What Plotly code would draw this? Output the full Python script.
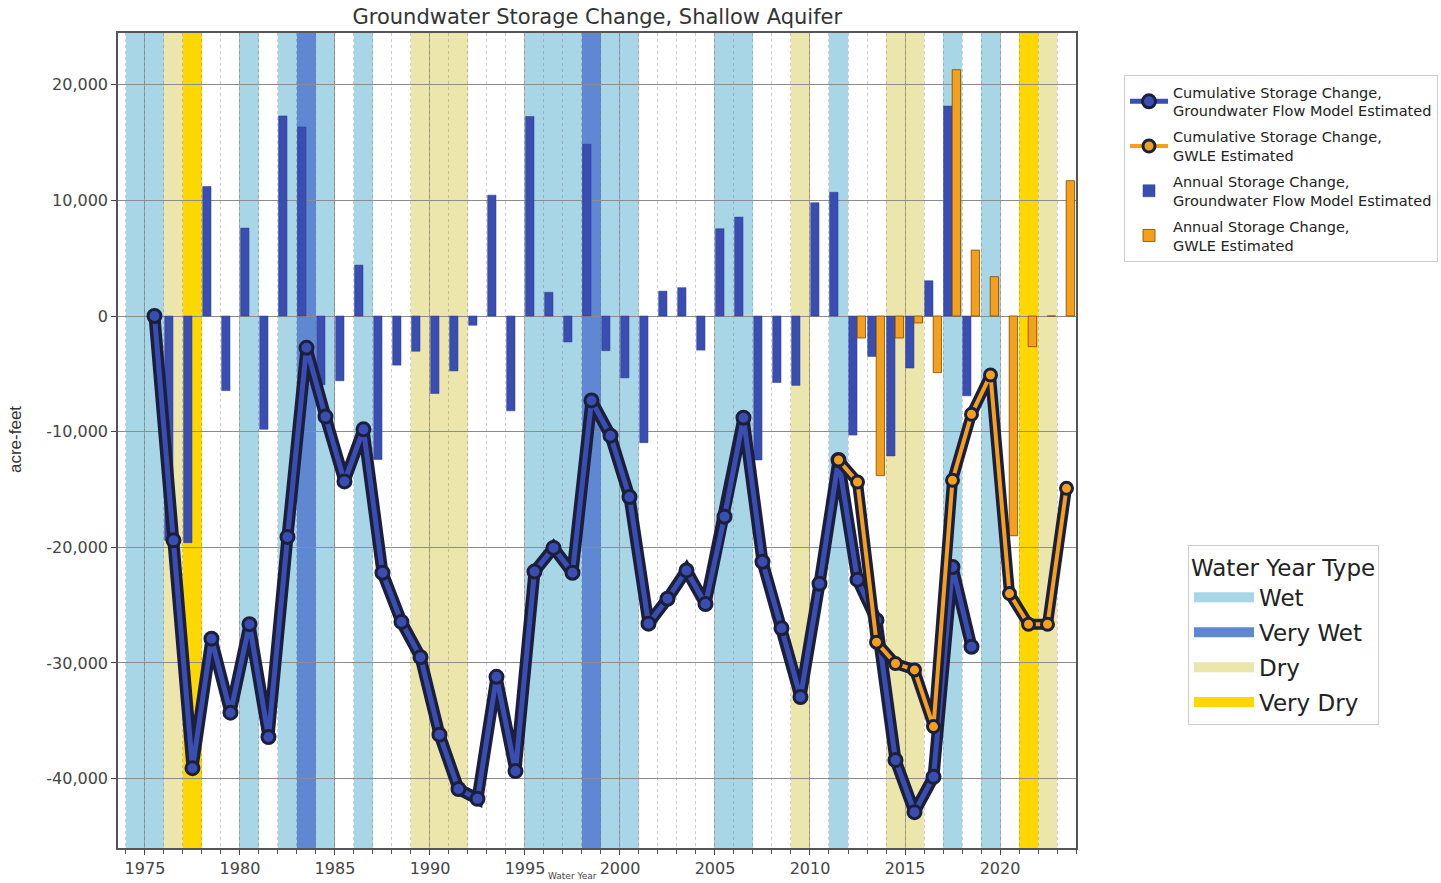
import plotly.graph_objects as go

# ---------------- data ----------------
years_model = list(range(1975, 2019))
cum_model = [0, -19400, -39100, -27900, -34300, -26650, -36400, -19100, -2750, -8700,
             -14300, -9800, -22200, -26450, -29500, -36200, -40900, -41750, -31200, -39350,
             -22100, -20050, -22200, -7300, -10350, -15650, -26600, -24450, -22000, -24900,
             -17350, -8800, -21250, -27000, -32950, -23150, -12450, -22800, -26300, -38400,
             -42900, -39850, -21700, -28600]
annual_years_model = list(range(1976, 2019))
annual_model = [-19400, -19600, 11200, -6450, 7600, -9800, 17300, 16350, -5950, -5600,
                4400, -12400, -4250, -3050, -6700, -4750, -800, 10450, -8200, 17250,
                2050, -2250, 14850, -3000, -5350, -10950, 2150, 2450, -2950, 7550,
                8550, -12450, -5750, -6000, 9800, 10700, -10300, -3500, -12100, -4500,
                3050, 18150, -6900]

years_gwle = list(range(2011, 2024))
cum_gwle = [-12450, -14350, -28200, -30050, -30600, -35500, -14200, -8500, -5100,
            -24000, -26650, -26650, -14900]
annual_years_gwle = list(range(2012, 2024))
annual_gwle = [-1900, -13800, -1900, -600, -4900, 21300, 5700, 3400, -19000, -2650, 0, 11700]

type_years = list(range(1974, 2024))
year_types = ["Wet", "Wet", "Dry", "Very Dry", "", "", "Wet", "", "Wet", "Very Wet",
              "Wet", "", "Wet", "", "", "Dry", "Dry", "Dry", "", "",
              "", "Wet", "Wet", "Wet", "Very Wet", "Wet", "Wet", "", "", "",
              "", "Wet", "Wet", "", "", "Dry", "", "Wet", "", "",
              "Dry", "Dry", "", "Wet", "", "Wet", "", "Very Dry", "Dry", ""]
type_names = ["Wet", "Very Wet", "Dry", "Very Dry"]
type_colors = {"Wet": "#a8d6e7", "Very Wet": "#5f87d2", "Dry": "#ece6ac", "Very Dry": "#ffd700"}

x_tick_vals = [1975, 1980, 1985, 1990, 1995, 2000, 2005, 2010, 2015, 2020]
x_tick_text = ["1975", "1980", "1985", "1990", "1995", "2000", "2005", "2010", "2015", "2020"]
y_tick_vals = [-40000, -30000, -20000, -10000, 0, 10000, 20000]
y_tick_text = ["-40,000", "-30,000", "-20,000", "-10,000", "0", "10,000", "20,000"]

# ---------------- figure ----------------
BLUE = "#3a4eb2"
ORANGE = "#f5a01c"
OUTLINE = "#1c1f3c"

fig = go.Figure()

# annual bars
fig.add_trace(go.Bar(
    x=[y + 0.255 for y in annual_years_model], y=annual_model, width=0.44,
    marker=dict(color=BLUE, line=dict(color="#2a3a8c", width=0.5)),
    name="Annual Storage Change,<br>Groundwater Flow Model Estimated",
    legendgroup="am", legendrank=3))
fig.add_trace(go.Bar(
    x=[y + 0.705 for y in annual_years_gwle], y=annual_gwle, width=0.44,
    marker=dict(color=ORANGE, line=dict(color="#7a4a00", width=0.8)),
    name="Annual Storage Change,<br>GWLE Estimated",
    legendgroup="ag", legendrank=4))

# cumulative lines (dark outline + coloured core)
xm = [y + 0.5 for y in years_model]
xg = [y + 0.5 for y in years_gwle]
fig.add_trace(go.Scatter(x=xm, y=cum_model, mode="lines",
                         line=dict(color=OUTLINE, width=12), showlegend=False,
                         legendgroup="cm", hoverinfo="skip"))
fig.add_trace(go.Scatter(x=xm, y=cum_model, mode="lines+markers",
                         line=dict(color=BLUE, width=5),
                         marker=dict(symbol="circle", size=13, color=BLUE,
                                     line=dict(color=OUTLINE, width=3)),
                         name="Cumulative Storage Change,<br>Groundwater Flow Model Estimated",
                         legendgroup="cm", legendrank=1))
fig.add_trace(go.Scatter(x=xg, y=cum_gwle, mode="lines",
                         line=dict(color=OUTLINE, width=11), showlegend=False,
                         legendgroup="cg", hoverinfo="skip"))
fig.add_trace(go.Scatter(x=xg, y=cum_gwle, mode="lines+markers",
                         line=dict(color=ORANGE, width=4),
                         marker=dict(symbol="circle", size=12, color=ORANGE,
                                     line=dict(color=OUTLINE, width=3)),
                         name="Cumulative Storage Change,<br>GWLE Estimated",
                         legendgroup="cg", legendrank=2))

# water-year-type legend entries
for i, t in enumerate(type_names):
    fig.add_trace(go.Scatter(x=[None], y=[None], mode="lines",
                             line=dict(color=type_colors[t], width=10),
                             name=t, legend="legend2", legendgroup=t,
                             legendrank=10 + i))

# background bands for water-year types
shapes = []
for y, t in zip(type_years, year_types):
    if t:
        shapes.append(dict(type="rect", xref="x", yref="y domain",
                           x0=y, x1=y + 1, y0=0, y1=1,
                           fillcolor=type_colors[t], line=dict(width=0),
                           layer="below"))

fig.update_layout(
    width=1441, height=883,
    margin=dict(l=118, r=365, t=33, b=35, autoexpand=False),
    plot_bgcolor="white", paper_bgcolor="white",
    barmode="overlay",
    shapes=shapes,
    font=dict(family="DejaVu Sans, Liberation Sans, sans-serif", color="#333"),
    title=dict(text="Groundwater Storage Change, Shallow Aquifer",
               x=0.4145, xanchor="center", y=1 - 17 / 883, yanchor="middle",
               font=dict(family="DejaVu Sans, sans-serif", size=21, color="#333")),
    xaxis=dict(range=[1973.58, 2024.0], tickvals=x_tick_vals, ticktext=x_tick_text,
               ticks="outside", ticklen=5, tickcolor="#444",
               tickfont=dict(family="DejaVu Sans, sans-serif", size=16, color="#444"),
               showgrid=True, gridcolor="rgba(100,100,100,0.45)", gridwidth=1,
               minor=dict(dtick=1, tick0=1975, ticks="outside", ticklen=4,
                          tickcolor="#555", showgrid=True,
                          gridcolor="rgba(110,110,110,0.35)", griddash="dot"),
               showline=True, mirror=True, linecolor="#555", linewidth=1.5,
               zeroline=False),
    yaxis=dict(range=[-46000, 24470], tickvals=y_tick_vals, ticktext=y_tick_text,
               ticks="outside", ticklen=5, tickcolor="#444",
               tickfont=dict(family="DejaVu Sans, sans-serif", size=16, color="#444"),
               showgrid=True, gridcolor="#8c8c8c", gridwidth=1,
               showline=True, mirror=True, linecolor="#555", linewidth=1.5,
               zeroline=False),
    legend=dict(x=(1124 - 118) / 958, y=(848 - 75) / 815, xanchor="left", yanchor="top",
                bgcolor="white", bordercolor="#cccccc", borderwidth=1,
                font=dict(family="DejaVu Sans, sans-serif", size=14.5, color="#222"),
                tracegroupgap=4, itemwidth=38),
    legend2=dict(x=(1188 - 118) / 958, y=(848 - 545) / 815, xanchor="left", yanchor="top",
                 bgcolor="white", bordercolor="#cccccc", borderwidth=1,
                 title=dict(text="Water Year Type",
                            font=dict(family="DejaVu Sans, sans-serif", size=23, color="#222")),
                 font=dict(family="DejaVu Sans, sans-serif", size=23, color="#222"),
                 tracegroupgap=2, itemwidth=60),
    annotations=[
        dict(text="acre-feet", textangle=-90, xref="paper", yref="paper",
             x=(15 - 118) / 958, y=(848 - 440) / 815, xanchor="center", yanchor="middle",
             showarrow=False,
             font=dict(family="Liberation Sans Narrow, Liberation Sans, sans-serif",
                       size=17, color="#333")),
        dict(text="Water Year", xref="paper", yref="paper",
             x=(572 - 118) / 958, y=(848 - 883) / 815, xanchor="center", yanchor="bottom",
             showarrow=False,
             font=dict(family="DejaVu Sans, sans-serif", size=9, color="#444")),
    ],
)

fig.write_html("out.html", config={"displayModeBar": False},
               post_script="document.body.style.margin='0';document.body.style.overflow='hidden';")
